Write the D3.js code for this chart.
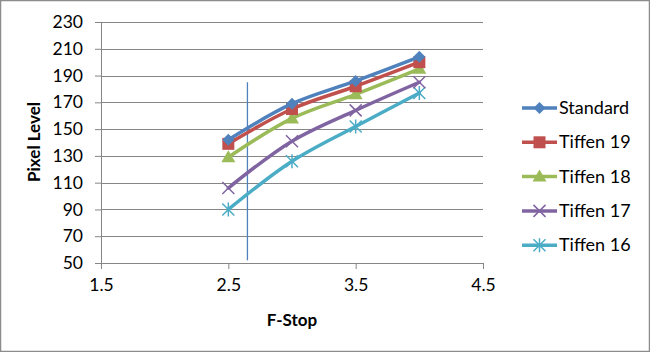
<!DOCTYPE html>
<html>
<head>
<meta charset="utf-8">
<script src="https://cdn.jsdelivr.net/npm/d3@7"></script>
<style>
  body { margin: 0; background: #fff; }
  svg { display: block; }
  text { font-family: Lato, "Open Sans", sans-serif; fill: #000; }
</style>
</head>
<body>
<div id="chart"></div>
<script>
const W = 650, H = 352;

const fStops = [2.5, 3.0, 3.5, 4.0];
const seriesNames = ["Standard", "Tiffen 19", "Tiffen 18", "Tiffen 17", "Tiffen 16"];
const standard = [142, 169, 186, 204];
const tiffen19 = [139, 165, 182, 200];
const tiffen18 = [129, 158, 176, 195];
const tiffen17 = [106, 141, 164, 185];
const tiffen16 = [90, 126, 152, 177];
const seriesValues = [standard, tiffen19, tiffen18, tiffen17, tiffen16];
const seriesColors = ["#4F81BD", "#C0504D", "#9BBB59", "#8064A2", "#4BACC6"];
const markerTypes = ["diamond", "square", "triangle", "x", "star"];
const xTicks = [1.5, 2.5, 3.5, 4.5];
const yTicks = [50, 70, 90, 110, 130, 150, 170, 190, 210, 230];
// thin marker line in the plot
const refLineX = [2.65, 2.65];
const refLineY = [52, 185];

let margin = {top: 22, left: 101, right: W - 483, bottom: H - 263};
let width = W - margin.left - margin.right;
let height = H - margin.top - margin.bottom;

let xScale = d3.scaleLinear().domain([1.5, 4.5]).range([0, width]);
let yScale = d3.scaleLinear().domain([50, 230]).range([height, 0]);

let svg = d3.select("#chart").append("svg").attr("width", W).attr("height", H);
svg.append("rect").attr("x", 0.5).attr("y", 0.5).attr("width", W - 1).attr("height", H - 1)
  .attr("fill", "#fff").attr("stroke", "#8c8c8c").attr("stroke-width", 1.5);

let g = svg.append("g").attr("transform", "translate(" + margin.left + "," + margin.top + ")");

// gridlines
g.append("g").selectAll("line").data(yTicks).enter().append("line")
  .attr("x1", 0).attr("x2", width)
  .attr("y1", d => Math.round(yScale(d)) + 0.5).attr("y2", d => Math.round(yScale(d)) + 0.5)
  .attr("stroke", "#868686").attr("stroke-width", 1);

// y axis
let yAxis = d3.axisLeft(yScale).tickValues(yTicks).tickSize(6).tickPadding(12);
let yG = g.append("g").call(yAxis);
yG.select(".domain").attr("stroke", "#868686");
yG.selectAll(".tick line").attr("stroke", "#868686");
yG.selectAll(".tick text").style("font-size", "17.5px").attr("font-family", "Lato");

// x axis
let xAxis = d3.axisBottom(xScale).tickValues(xTicks).tickFormat(d3.format(".1f")).tickSize(6).tickPadding(10);
let xG = g.append("g").attr("transform", "translate(0," + height + ")").call(xAxis);
xG.select(".domain").attr("stroke", "#868686");
xG.selectAll(".tick line").attr("stroke", "#868686");
xG.selectAll(".tick text").style("font-size", "17.5px").attr("font-family", "Lato");

// axis titles
svg.append("text").attr("transform", "translate(40,142) rotate(-90)")
  .attr("text-anchor", "middle").style("font-size", "17px").style("font-weight", "bold")
  .text("Pixel Level");
svg.append("text").attr("x", 292).attr("y", 326)
  .attr("text-anchor", "middle").style("font-size", "17px").style("font-weight", "bold")
  .text("F-Stop");

// reference line
g.append("line")
  .attr("x1", xScale(refLineX[0])).attr("x2", xScale(refLineX[1]))
  .attr("y1", yScale(refLineY[0])).attr("y2", yScale(refLineY[1]))
  .attr("stroke", "#4F81BD").attr("stroke-width", 1.3);

function drawMarker(sel, type, color, cx, cy) {
  if (type === "diamond") {
    sel.append("path").attr("d", `M${cx},${cy-6}L${cx+6},${cy}L${cx},${cy+6}L${cx-6},${cy}Z`).attr("fill", color);
  } else if (type === "square") {
    sel.append("rect").attr("x", cx - 6).attr("y", cy - 6).attr("width", 12).attr("height", 12).attr("fill", color);
  } else if (type === "triangle") {
    sel.append("path").attr("d", `M${cx},${cy-7}L${cx+7},${cy+5}L${cx-7},${cy+5}Z`).attr("fill", color);
  } else if (type === "x") {
    sel.append("path").attr("d", `M${cx-6},${cy-6}L${cx+6},${cy+6}M${cx-6},${cy+6}L${cx+6},${cy-6}`)
      .attr("stroke", color).attr("stroke-width", 1.5).attr("fill", "none");
  } else if (type === "star") {
    sel.append("path").attr("d", `M${cx-6},${cy-6}L${cx+6},${cy+6}M${cx-6},${cy+6}L${cx+6},${cy-6}M${cx},${cy-7}L${cx},${cy+7}`)
      .attr("stroke", color).attr("stroke-width", 1.5).attr("fill", "none");
  }
}

let line = d3.line().x((d, i) => xScale(fStops[i])).y(d => yScale(d)).curve(d3.curveCatmullRom.alpha(0.5));

// draw series, last first so Standard sits on top
for (let s = seriesValues.length - 1; s >= 0; s--) {
  let sg = g.append("g");
  sg.append("path").datum(seriesValues[s]).attr("d", line)
    .attr("fill", "none").attr("stroke", seriesColors[s]).attr("stroke-width", 3.5)
    .attr("stroke-linejoin", "round").attr("stroke-linecap", "round");
  seriesValues[s].forEach((v, i) => drawMarker(sg, markerTypes[s], seriesColors[s], xScale(fStops[i]), yScale(v)));
}

// legend
let legend = svg.append("g").attr("transform", "translate(522,108)");
seriesNames.forEach((name, i) => {
  let lg = legend.append("g").attr("transform", "translate(0," + (i * 34.3) + ")");
  lg.append("line").attr("x1", 0).attr("x2", 35).attr("y1", 0).attr("y2", 0)
    .attr("stroke", seriesColors[i]).attr("stroke-width", 3.5);
  drawMarker(lg, markerTypes[i], seriesColors[i], 17.5, 0);
  lg.append("text").attr("x", 37).attr("y", 6).style("font-size", "18px").text(name);
});
</script>
</body>
</html>
